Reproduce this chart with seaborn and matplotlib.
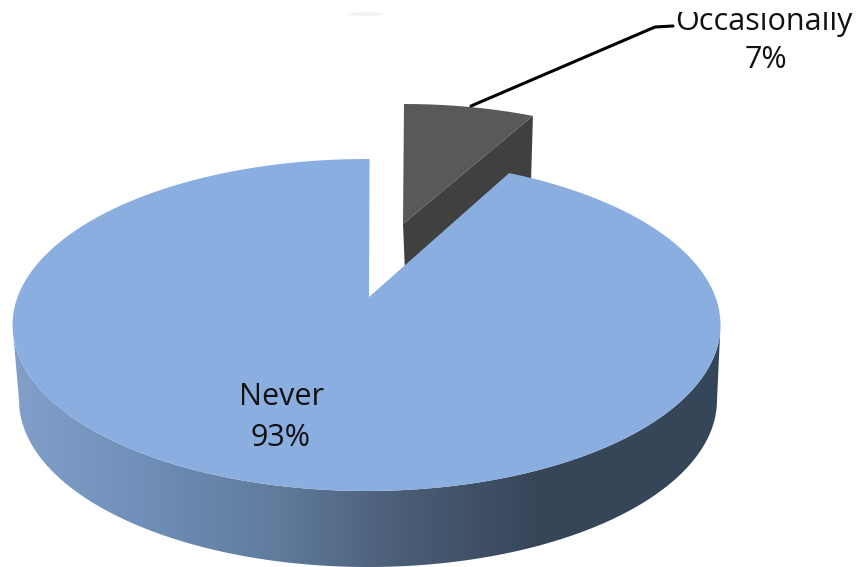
import numpy as np
import matplotlib
matplotlib.use("Agg")
import matplotlib.pyplot as plt
import seaborn as sns
from matplotlib.patches import Polygon, Rectangle, Ellipse

# answers and their share in percent (labels show them rounded)
labels = ["Occasionally", "Never"]
shares = [6.6, 93.4]

sns.set_theme(style="white")
plt.rcParams["font.family"] = ["Open Sans", "DejaVu Sans"]

blue = "#8aaee0"
dark_top = "#595959"
dark_side = "#404040"
side_cmap = sns.blend_palette(["#829fca", "#6f8fb8", "#607b9c", "#4a5c75", "#364659"], as_cmap=True)

fig, ax = plt.subplots(figsize=(8.6, 5.67), dpi=100)
fig.subplots_adjust(0, 0, 1, 1)
ax.set_axis_off()


def ring(cx, cy, rx, ry, start, stop, n=200):
    # clockwise from 12 o'clock, angles in degrees
    t = np.radians(np.linspace(start, stop, n))
    return np.column_stack([cx + rx * np.sin(t), cy - ry * np.cos(t)])


cut = 360 * shares[0] / sum(shares)

# side wall with the left-to-right shading
lower = ring(368, 400, 349, 167, 90, 270)
upper = ring(366.5, 325, 354, 166, 270, 90)
wall = Polygon(np.vstack([upper, lower]), closed=True, fc="none", ec="none", transform=ax.transData)
ax.add_patch(wall)
grad = ax.imshow(np.linspace(0, 1, 256).reshape(1, -1), cmap=side_cmap, extent=[13, 540, 567, 325],
                 aspect="auto", zorder=1)
grad.set_clip_path(wall)
# right of the gradient the wall is flat
flat = Rectangle((539, 325), 190, 242, fc="#364659", ec="none", zorder=1)
ax.add_patch(flat)
flat.set_clip_path(wall)

# pulled-out slice
arc = ring(404, 245, 320, 141, 0, cut)
ax.add_patch(Polygon([(403, 224), tuple(arc[-1]), (531, 182), (405, 272)], closed=True, fc=dark_side, ec="none", zorder=2))
ax.add_patch(Polygon(np.vstack([[(403, 224)], arc]), closed=True, fc=dark_top, ec="none", zorder=3))

# main slice, apex sits above the ellipse centre
rim = ring(366.5, 325, 354, 166, cut, 360.5)
ax.add_patch(Polygon(np.vstack([[(369, 297)], rim]), closed=True, fc=blue, ec="none", zorder=4))

# leader line
ax.plot([471, 655, 673], [106, 27, 26], color="black", lw=2.2, zorder=5, solid_joinstyle="round")

# faint smudge and the labels, the top one is cut by the picture edge
ax.add_patch(Ellipse((366, 14), 34, 4, fc="#f2f2f2", ec="none", zorder=1))
keep = Rectangle((0, 12), 860, 555, transform=ax.transData)
top = ax.text(764, 22, labels[0], ha="center", va="center", fontsize=22, color="#111111", zorder=6)
top.set_clip_path(keep)
top.set_clip_on(True)
ax.text(766, 60, f"{round(shares[0])}%", ha="center", va="center", fontsize=22, color="#111111", zorder=6)
ax.text(281, 397, labels[1], ha="center", va="center", fontsize=22, color="#111111", zorder=6)
ax.text(281, 438, f"{round(shares[1])}%", ha="center", va="center", fontsize=22, color="#111111", zorder=6)

ax.set_xlim(0, 860)
ax.set_ylim(567, 0)
fig.savefig("out.png", dpi=100)
